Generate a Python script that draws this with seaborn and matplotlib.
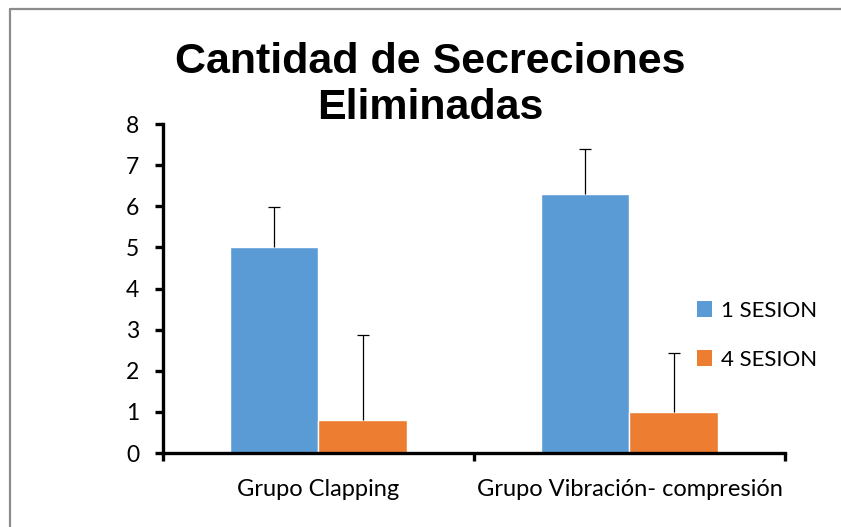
import pandas as pd
import matplotlib.pyplot as plt
import seaborn as sns
from matplotlib.lines import Line2D
from matplotlib.patches import Patch

# datos
grupos = ["Grupo Clapping", "Grupo Vibración- compresión"]
sesiones = ["1 SESION", "4 SESION"]
valores_1 = [5.0, 6.3]
valores_4 = [0.8, 1.0]
error_1 = [0.98, 1.1]
error_4 = [2.08, 1.42]
colores = ["#5B9BD5", "#ED7D31"]

df = pd.DataFrame({
    "grupo": grupos * 2,
    "sesion": [sesiones[0]] * 2 + [sesiones[1]] * 2,
    "valor": valores_1 + valores_4,
})
errores = [error_1, error_4]

sns.set_style("white")
plt.rcParams["font.family"] = ["Lato", "DejaVu Sans"]
plt.rcParams["text.color"] = "black"
plt.rcParams["xtick.color"] = "black"
plt.rcParams["ytick.color"] = "black"

fig = plt.figure(figsize=(8.41, 5.27), dpi=100)
ax = fig.add_axes([0.1938, 0.1404, 0.7396, 0.6243])

sns.barplot(data=df, x="grupo", y="valor", hue="sesion", order=grupos,
            hue_order=sesiones, palette=colores, width=0.57, saturation=1,
            errorbar=None, ax=ax, legend=False)

# barras de error solo hacia arriba (sin tope abajo)
for cont, err in zip(ax.containers, errores):
    xs = [b.get_x() + b.get_width() / 2 for b in cont]
    ys = [b.get_height() for b in cont]
    _, caps, _ = ax.errorbar(xs, ys, yerr=[[0] * len(err), err], fmt="none",
                             ecolor="black", elinewidth=0.9, capsize=4.5,
                             capthick=0.9)
    for c in caps:
        if list(c.get_ydata()) == ys:
            c.set_visible(False)

ax.set_xlim(-0.5, 1.5)
ax.set_ylim(0, 8)
ax.set_yticks(range(0, 9))
ax.set_xlabel("")
ax.set_ylabel("")

for s in ["top", "right"]:
    ax.spines[s].set_visible(False)
for s in ["left", "bottom"]:
    ax.spines[s].set_linewidth(2.4)
    ax.spines[s].set_color("black")

ax.tick_params(axis="y", which="major", left=True, length=6, width=2.4,
               labelsize=16.5, pad=11)
ax.tick_params(axis="x", which="major", bottom=False, length=0,
               labelsize=17, pad=19)
ax.set_xticks([-0.5, 0.5, 1.5], minor=True)
ax.tick_params(axis="x", which="minor", bottom=True, length=6, width=2.4)

handles = [Patch(facecolor=c, edgecolor="none") for c in colores]
ax.legend(handles, sesiones, loc="center left", bbox_to_anchor=(0.826, 0.358),
          frameon=False, fontsize=16, handlelength=0.7, handleheight=0.7,
          handletextpad=0.4, labelspacing=1.32)

fig.text(0.512, 0.838, "Cantidad de Secreciones\nEliminadas", ha="center",
         va="center", fontsize=31, fontweight="bold", color="black",
         family=["Liberation Sans", "DejaVu Sans"], linespacing=1.2)

# marco gris del grafico
fig.add_artist(Line2D([0.0113, 0.0113], [0, 0.983], transform=fig.transFigure,
                      color="#8c8c8c", lw=1.6))
fig.add_artist(Line2D([0.0113, 1], [0.983, 0.983], transform=fig.transFigure,
                      color="#8c8c8c", lw=1.6))

fig.savefig("out.png", dpi=100)
